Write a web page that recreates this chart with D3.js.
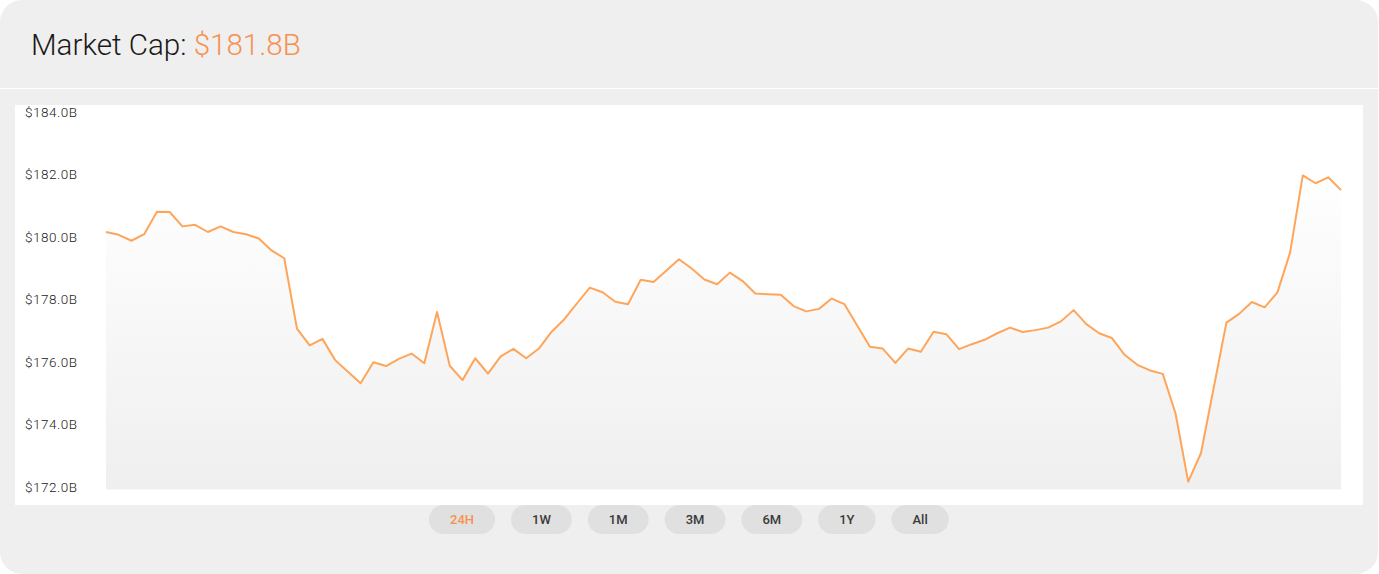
<!DOCTYPE html>
<html>
<head>
<meta charset="utf-8">
<script src="https://cdn.jsdelivr.net/npm/d3@7"></script>
<style>
  html, body { margin: 0; padding: 0; background: #ffffff; }
  svg { display: block; font-family: Roboto, "Noto Sans", sans-serif; }
</style>
</head>
<body>
<svg id="chart" width="1379" height="574"></svg>
<script>
// ---- data ----
const titleLabel = "Market Cap:";
const titleValue = "$181.8B";
const marketCap = [
  180.16, 180.07, 179.88, 180.09, 180.81, 180.80, 180.34, 180.39, 180.16, 180.34,
  180.16, 180.09, 179.95, 179.57, 179.32, 177.07, 176.53, 176.74, 176.06, 175.69,
  175.32, 175.99, 175.87, 176.10, 176.27, 175.96, 177.60, 175.88, 175.42, 176.12,
  175.63, 176.18, 176.42, 176.12, 176.43, 176.97, 177.37, 177.88, 178.38, 178.23,
  177.93, 177.85, 178.63, 178.56, 178.92, 179.29, 178.99, 178.64, 178.49, 178.86,
  178.59, 178.19, 178.17, 178.15, 177.79, 177.62, 177.70, 178.03, 177.85, 177.17,
  176.49, 176.43, 175.97, 176.43, 176.33, 176.97, 176.89, 176.41, 176.57, 176.71,
  176.92, 177.10, 176.96, 177.02, 177.10, 177.30, 177.66, 177.21, 176.92, 176.77,
  176.23, 175.91, 175.73, 175.62, 174.36, 172.17, 173.08, 175.17, 177.26, 177.54,
  177.92, 177.75, 178.22, 179.50, 181.97, 181.72, 181.91, 181.50
];
const yTicks = [172, 174, 176, 178, 180, 182, 184];
const ranges = ["24H", "1W", "1M", "3M", "6M", "1Y", "All"];
const activeRange = "24H";

// ---- layout ----
const W = 1379, H = 574;
const svg = d3.select("#chart");
const orange = "#f79150";
const lineColor = "#ffa55a";

// card
svg.append("rect").attr("x", 0).attr("y", 0).attr("width", W - 1).attr("height", H)
  .attr("rx", 22).attr("fill", "#efefef");
// header separator
svg.append("rect").attr("x", 0).attr("y", 88).attr("width", W - 1).attr("height", 1).attr("fill", "#ffffff");

// title
const title = svg.append("text").attr("x", 31).attr("y", 55)
  .style("font-size", "29.6px").style("font-weight", 300);
title.append("tspan").attr("fill", "#1a1a1a").text(titleLabel + " ");
title.append("tspan").attr("fill", orange).text(titleValue);

// chart panel
svg.append("rect").attr("x", 15).attr("y", 105).attr("width", 1348).attr("height", 400).attr("fill", "#ffffff");

const x = d3.scaleLinear().domain([0, marketCap.length - 1]).range([106, 1341]);
const y = d3.scaleLinear().domain([172, 184]).range([487, 112]);
const plotBottom = 489.5;

const defs = svg.append("defs");
const grad = defs.append("linearGradient").attr("id", "areaGrad")
  .attr("gradientUnits", "userSpaceOnUse")
  .attr("x1", 0).attr("y1", 170).attr("x2", 0).attr("y2", plotBottom);
grad.append("stop").attr("offset", "0%").attr("stop-color", "#ffffff");
grad.append("stop").attr("offset", "100%").attr("stop-color", "#efefef");

const area = d3.area().x((d, i) => x(i)).y0(plotBottom).y1(d => y(d));
svg.append("path").datum(marketCap).attr("d", area).attr("fill", "url(#areaGrad)");

const line = d3.line().x((d, i) => x(i)).y(d => y(d));
svg.append("path").datum(marketCap).attr("d", line)
  .attr("fill", "none").attr("stroke", lineColor).attr("stroke-width", 2)
  .attr("stroke-linejoin", "round");

// y axis labels
const axis = d3.axisLeft(y).tickValues(yTicks).tickSize(0)
  .tickFormat(d => "$" + d.toFixed(1) + "B");
const gAxis = svg.append("g").call(axis);
gAxis.select(".domain").remove();
gAxis.selectAll("text").attr("x", 25).attr("text-anchor", "start")
  .attr("fill", "#222").style("font-size", "13.5px").style("font-weight", 300)
  .style("letter-spacing", "0.5px").style("font-family", "Roboto, sans-serif");

// range buttons
const gBtn = svg.append("g");
let bx = 429;
const pad = 21, gap = 16, bTop = 505, bH = 29;
ranges.forEach(r => {
  const g = gBtn.append("g");
  const rect = g.append("rect").attr("y", bTop).attr("height", bH).attr("rx", 14.5).attr("fill", "#e0e0e0");
  const t = g.append("text").attr("y", bTop + bH / 2).attr("dy", "0.35em")
    .attr("text-anchor", "middle").style("font-size", "13px").style("font-weight", 500)
    .attr("fill", r === activeRange ? orange : "#3a3a3a").text(r);
  const tw = t.node().getComputedTextLength();
  const w = tw + pad * 2;
  rect.attr("x", bx).attr("width", w);
  t.attr("x", bx + w / 2);
  bx += w + gap;
});
</script>
</body>
</html>
